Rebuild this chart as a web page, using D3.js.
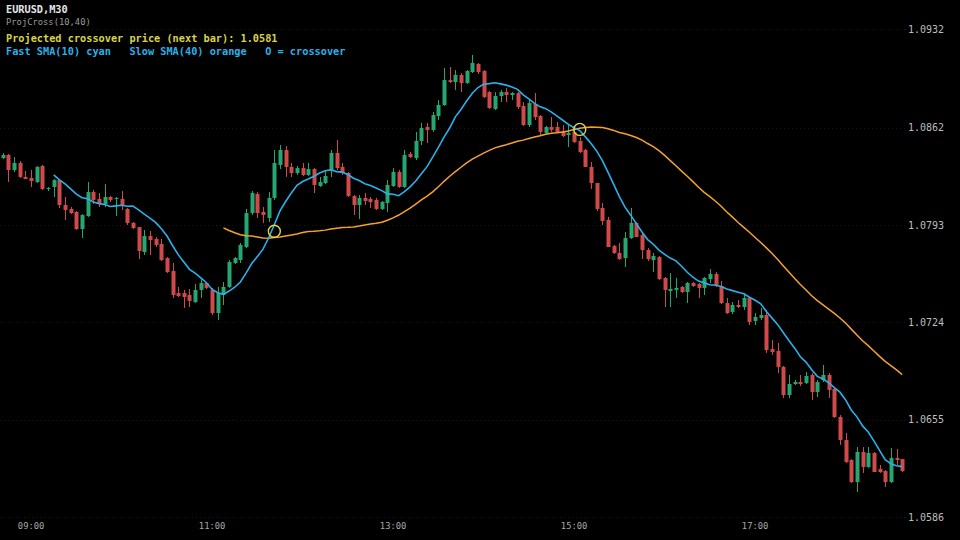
<!DOCTYPE html>
<html><head><meta charset="utf-8">
<script src="https://cdn.jsdelivr.net/npm/d3@7"></script>
<style>html,body{margin:0;padding:0;background:#000;}svg{display:block}</style>
</head><body><svg id="chart" width="960" height="540"></svg>
<script>
// ---- data (EURUSD M30, 160 bars) ----
const opens = [
1.08405,1.08427,1.08320,1.08370,1.08271,1.08264,1.08235,1.08349,1.08186,1.08200,
1.08249,1.08072,1.08044,1.08023,1.07902,1.07994,1.08164,1.08115,1.08079,1.08129,
1.08115,1.08115,1.08044,1.07945,1.07916,1.07739,1.07852,1.07831,1.07796,1.07696,
1.07604,1.07448,1.07448,1.07434,1.07384,1.07470,1.07519,1.07470,1.07306,1.07434,
1.07491,1.07661,1.07682,1.07774,1.08015,1.08150,1.08023,1.07980,1.08122,1.08356,
1.08462,1.08342,1.08299,1.08334,1.08285,1.08327,1.08207,1.08228,1.08313,1.08441,
1.08342,1.08299,1.08136,1.08072,1.08122,1.08115,1.08108,1.08044,1.08086,1.08207,
1.08306,1.08200,1.08434,1.08405,1.08526,1.08625,1.08604,1.08703,1.08781,1.08958,
1.08944,1.08994,1.08937,1.09015,1.09072,1.09022,1.08873,1.08753,1.08845,1.08873,
1.08852,1.08866,1.08774,1.08639,1.08788,1.08703,1.08583,1.08625,1.08625,1.08597,
1.08568,1.08590,1.08526,1.08462,1.08342,1.08228,1.08051,1.07966,1.07781,1.07732,
1.07696,1.07838,1.07945,1.07859,1.07753,1.07682,1.07703,1.07555,1.07462,1.07470,
1.07491,1.07455,1.07519,1.07512,1.07484,1.07547,1.07583,1.07498,1.07377,1.07314,
1.07363,1.07349,1.07413,1.07250,1.07271,1.07292,1.07051,1.07037,1.06924,1.06725,
1.06803,1.06817,1.06810,1.06867,1.06746,1.06831,1.06867,1.06768,1.06569,1.06406,
1.06264,1.06108,1.06321,1.06215,1.06314,1.06200,1.06186,1.06108,1.06278,1.06271];
const highs = [
1.08441,1.08434,1.08412,1.08384,1.08313,1.08320,1.08349,1.08356,1.08200,1.08256,
1.08256,1.08129,1.08058,1.08030,1.08008,1.08235,1.08179,1.08157,1.08221,1.08136,
1.08129,1.08171,1.08051,1.07952,1.07916,1.07895,1.07888,1.07845,1.07831,1.07703,
1.07661,1.07491,1.07470,1.07477,1.07512,1.07547,1.07526,1.07484,1.07491,1.07526,
1.07682,1.07703,1.07803,1.08044,1.08171,1.08164,1.08058,1.08164,1.08462,1.08498,
1.08490,1.08370,1.08349,1.08370,1.08370,1.08334,1.08271,1.08320,1.08462,1.08533,
1.08370,1.08306,1.08143,1.08143,1.08157,1.08129,1.08122,1.08101,1.08249,1.08334,
1.08320,1.08462,1.08448,1.08590,1.08654,1.08654,1.08732,1.08817,1.09043,1.09051,
1.09029,1.09008,1.09029,1.09136,1.09079,1.09029,1.08880,1.08873,1.08888,1.08902,
1.08873,1.08873,1.08802,1.08817,1.08866,1.08710,1.08632,1.08696,1.08661,1.08639,
1.08639,1.08625,1.08554,1.08469,1.08377,1.08228,1.08086,1.07987,1.07789,1.07803,
1.07881,1.08051,1.07952,1.07874,1.07767,1.07732,1.07711,1.07562,1.07590,1.07555,
1.07498,1.07526,1.07526,1.07519,1.07562,1.07618,1.07597,1.07533,1.07413,1.07384,
1.07399,1.07448,1.07420,1.07306,1.07342,1.07328,1.07115,1.07094,1.06931,1.06867,
1.06831,1.06867,1.06888,1.06881,1.06831,1.06938,1.06881,1.06775,1.06583,1.06456,
1.06271,1.06356,1.06356,1.06356,1.06321,1.06229,1.06193,1.06349,1.06342,1.06271];
const lows = [
1.08398,1.08235,1.08306,1.08264,1.08256,1.08200,1.08228,1.08179,1.08171,1.08129,
1.08051,1.07966,1.08008,1.07895,1.07838,1.07987,1.08079,1.08058,1.08058,1.08093,
1.07994,1.08037,1.07930,1.07902,1.07689,1.07718,1.07718,1.07774,1.07675,1.07590,
1.07413,1.07420,1.07342,1.07349,1.07377,1.07413,1.07477,1.07292,1.07257,1.07363,
1.07484,1.07654,1.07661,1.07767,1.08001,1.07980,1.07945,1.07952,1.08108,1.08327,
1.08271,1.08271,1.08285,1.08278,1.08278,1.08157,1.08200,1.08221,1.08271,1.08320,
1.08285,1.08129,1.08001,1.07973,1.08072,1.08051,1.08037,1.08037,1.08023,1.08200,
1.08193,1.08193,1.08405,1.08391,1.08498,1.08512,1.08590,1.08675,1.08774,1.08937,
1.08888,1.08873,1.08930,1.09008,1.09001,1.08831,1.08753,1.08746,1.08802,1.08802,
1.08817,1.08753,1.08632,1.08625,1.08675,1.08568,1.08576,1.08590,1.08583,1.08554,
1.08483,1.08512,1.08441,1.08342,1.08186,1.08030,1.07930,1.07774,1.07725,1.07682,
1.07633,1.07831,1.07845,1.07689,1.07675,1.07597,1.07540,1.07349,1.07349,1.07413,
1.07448,1.07377,1.07491,1.07413,1.07434,1.07519,1.07491,1.07370,1.07299,1.07299,
1.07342,1.07328,1.07221,1.07221,1.07257,1.07023,1.07009,1.06881,1.06704,1.06704,
1.06796,1.06789,1.06803,1.06690,1.06711,1.06817,1.06704,1.06562,1.06371,1.06243,
1.06101,1.06037,1.06172,1.06207,1.06179,1.06172,1.06073,1.06101,1.06229,1.06179];
const closes = [
1.08427,1.08320,1.08370,1.08271,1.08256,1.08242,1.08342,1.08186,1.08193,1.08249,
1.08072,1.08037,1.08015,1.07902,1.08001,1.08164,1.08108,1.08079,1.08129,1.08108,
1.08122,1.08072,1.07945,1.07909,1.07746,1.07852,1.07824,1.07789,1.07682,1.07597,
1.07434,1.07427,1.07420,1.07392,1.07470,1.07519,1.07484,1.07306,1.07448,1.07491,
1.07668,1.07696,1.07789,1.08015,1.08157,1.08015,1.08001,1.08122,1.08370,1.08462,
1.08342,1.08299,1.08334,1.08285,1.08327,1.08214,1.08235,1.08278,1.08441,1.08334,
1.08299,1.08136,1.08072,1.08122,1.08101,1.08093,1.08044,1.08093,1.08214,1.08306,
1.08200,1.08427,1.08412,1.08526,1.08618,1.08604,1.08710,1.08781,1.08958,1.08944,
1.08994,1.08937,1.09022,1.09079,1.09015,1.08838,1.08760,1.08845,1.08873,1.08852,
1.08866,1.08767,1.08639,1.08795,1.08696,1.08590,1.08625,1.08604,1.08583,1.08561,
1.08583,1.08519,1.08448,1.08342,1.08228,1.08044,1.07959,1.07774,1.07732,1.07689,
1.07838,1.07945,1.07845,1.07753,1.07689,1.07711,1.07547,1.07470,1.07477,1.07484,
1.07455,1.07519,1.07498,1.07484,1.07555,1.07583,1.07505,1.07377,1.07306,1.07363,
1.07349,1.07413,1.07243,1.07278,1.07292,1.07044,1.07030,1.06924,1.06725,1.06803,
1.06817,1.06803,1.06860,1.06746,1.06817,1.06867,1.06761,1.06569,1.06406,1.06250,
1.06108,1.06321,1.06215,1.06314,1.06179,1.06179,1.06108,1.06278,1.06264,1.06186];
// Fast SMA(10), first value at bar 9
const fastStart = 9;
const fastSMA = [
1.08286,1.08250,1.08222,1.08186,1.08149,1.08124,1.08116,1.08093,1.08082,1.08076,
1.08062,1.08066,1.08070,1.08063,1.08064,1.08038,1.08007,1.07979,1.07949,1.07905,
1.07854,1.07785,1.07720,1.07668,1.07616,1.07589,1.07555,1.07521,1.07473,1.07450,
1.07439,1.07462,1.07489,1.07526,1.07589,1.07657,1.07707,1.07759,1.07840,1.07932,
1.08030,1.08097,1.08157,1.08212,1.08239,1.08256,1.08276,1.08299,1.08315,1.08322,
1.08309,1.08305,1.08288,1.08262,1.08246,1.08223,1.08211,1.08192,1.08174,1.08151,
1.08148,1.08138,1.08167,1.08201,1.08242,1.08293,1.08344,1.08411,1.08480,1.08554,
1.08618,1.08697,1.08749,1.08810,1.08865,1.08905,1.08928,1.08933,1.08939,1.08931,
1.08922,1.08909,1.08892,1.08853,1.08825,1.08793,1.08768,1.08755,1.08731,1.08702,
1.08673,1.08644,1.08620,1.08600,1.08555,1.08508,1.08454,1.08387,1.08304,1.08219,
1.08132,1.08057,1.08000,1.07940,1.07881,1.07827,1.07794,1.07752,1.07722,1.07696,
1.07676,1.07638,1.07595,1.07560,1.07533,1.07520,1.07507,1.07503,1.07494,1.07477,
1.07465,1.07454,1.07443,1.07418,1.07397,1.07371,1.07317,1.07270,1.07224,1.07166,
1.07110,1.07057,1.06996,1.06958,1.06904,1.06857,1.06839,1.06812,1.06777,1.06745,
1.06690,1.06619,1.06570,1.06506,1.06463,1.06400,1.06332,1.06266,1.06237,1.06223,
1.06217];
// Slow SMA(40), first value at bar 39
const slowStart = 39;
const slowSMA = [
1.07910,1.07891,1.07875,1.07861,1.07854,1.07852,1.07846,1.07838,1.07836,1.07841,
1.07846,1.07853,1.07859,1.07867,1.07877,1.07885,1.07886,1.07889,1.07894,1.07902,
1.07908,1.07912,1.07914,1.07917,1.07923,1.07931,1.07937,1.07943,1.07950,1.07964,
1.07981,1.08001,1.08025,1.08050,1.08079,1.08108,1.08135,1.08165,1.08202,1.08240,
1.08276,1.08309,1.08340,1.08371,1.08398,1.08419,1.08440,1.08459,1.08477,1.08489,
1.08499,1.08512,1.08524,1.08532,1.08544,1.08554,1.08563,1.08573,1.08581,1.08584,
1.08590,1.08597,1.08607,1.08616,1.08622,1.08625,1.08624,1.08622,1.08613,1.08601,
1.08586,1.08577,1.08565,1.08551,1.08532,1.08508,1.08486,1.08457,1.08424,1.08387,
1.08350,1.08312,1.08276,1.08238,1.08198,1.08162,1.08131,1.08099,1.08063,1.08023,
1.07986,1.07948,1.07914,1.07879,1.07842,1.07806,1.07768,1.07728,1.07686,1.07640,
1.07596,1.07551,1.07508,1.07469,1.07429,1.07394,1.07364,1.07334,1.07304,1.07271,
1.07235,1.07192,1.07151,1.07110,1.07075,1.07037,1.06999,1.06963,1.06933,1.06903,
1.06870];
const crossIdx = [48, 102];
const xTickIdx = [5, 37, 69, 101, 133];
const xTickLabels = ["09:00", "11:00", "13:00", "15:00", "17:00"];
const yTickValues = [1.0932, 1.0862, 1.0793, 1.0724, 1.0655, 1.0586];
const yTickLabels = ["1.0932", "1.0862", "1.0793", "1.0724", "1.0655", "1.0586"];
const headerLines = [
  "EURUSD,M30",
  "ProjCross(10,40)",
  "Projected crossover price (next bar): 1.0581",
  "Fast SMA(10) cyan   Slow SMA(40) orange   O = crossover"
];

// ---- drawing ----
const svg = d3.select("#chart");
const n = closes.length;
const UP = "#26a772", DOWN = "#d04a4a", CYAN = "#2bb0ea", ORANGE = "#f5a030", YEL = "#dcd648";
const mono = "'DejaVu Sans Mono', 'Liberation Mono', monospace";

const x = d3.scaleBand().domain(d3.range(n)).range([0, 905]);
const y = d3.scaleLinear().domain([1.0586, 1.0932]).range([517, 29]);
const cx = i => x(i) + x.bandwidth() / 2;

svg.append("rect").attr("width", 960).attr("height", 540).attr("fill", "#000");

// grid (very faint)
svg.append("g").selectAll("line").data(yTickValues).join("line")
  .attr("x1", 0).attr("x2", 905)
  .attr("y1", d => Math.round(y(d)) + 0.5).attr("y2", d => Math.round(y(d)) + 0.5)
  .attr("stroke", "#181818").attr("stroke-dasharray", "1,3");

// candles
const bars = d3.range(n);
const bodyW = 4;
const g = svg.append("g");
g.selectAll("line.wick").data(bars).join("line")
  .attr("class", "wick")
  .attr("x1", i => Math.round(cx(i)) + 0.5).attr("x2", i => Math.round(cx(i)) + 0.5)
  .attr("y1", i => y(highs[i])).attr("y2", i => y(lows[i]))
  .attr("stroke", i => closes[i] >= opens[i] ? UP : DOWN).attr("stroke-width", 1);
g.selectAll("rect.body").data(bars).join("rect")
  .attr("class", "body")
  .attr("x", i => Math.round(cx(i)) + 0.5 - bodyW / 2)
  .attr("width", bodyW)
  .attr("y", i => y(Math.max(opens[i], closes[i])))
  .attr("height", i => Math.max(1, Math.abs(y(opens[i]) - y(closes[i]))))
  .attr("fill", i => closes[i] >= opens[i] ? UP : DOWN);

// SMA lines
const lineGen = (arr, start) => d3.line()
  .x((d, k) => cx(k + start)).y(d => y(d))(arr);
svg.append("path").attr("d", lineGen(slowSMA, slowStart))
  .attr("fill", "none").attr("stroke", ORANGE).attr("stroke-width", 1.5);
svg.append("path").attr("d", lineGen(fastSMA, fastStart))
  .attr("fill", "none").attr("stroke", CYAN).attr("stroke-width", 1.6);

// crossover markers
svg.append("g").selectAll("circle").data(crossIdx).join("circle")
  .attr("cx", i => cx(i))
  .attr("cy", i => y((fastSMA[i - fastStart] + slowSMA[i - slowStart]) / 2))
  .attr("r", 6).attr("fill", "none").attr("stroke", YEL).attr("stroke-width", 1.4);

// y axis labels
svg.append("g").selectAll("text").data(yTickValues).join("text")
  .attr("x", 908).attr("y", d => y(d)).attr("dy", "0.35em")
  .attr("font-family", mono).attr("font-size", 10).attr("fill", "#bdbdbd")
  .text((d, k) => yTickLabels[k]);

// x axis labels
svg.append("g").selectAll("text").data(xTickIdx).join("text")
  .attr("x", i => cx(i)).attr("y", 529).attr("text-anchor", "middle")
  .attr("font-family", mono).attr("font-size", 8.8).attr("fill", "#a8a8a8")
  .text((d, k) => xTickLabels[k]);

// header texts
const hdr = [
  {y: 13, size: 10.25, weight: "bold", fill: "#e6e6e6"},
  {y: 25, size: 8.8, weight: "normal", fill: "#9a9a9a"},
  {y: 42, size: 10.25, weight: "bold", fill: "#d8d44a"},
  {y: 55, size: 10.25, weight: "bold", fill: "#2bb0ea"}
];
svg.append("g").selectAll("text").data(headerLines).join("text")
  .attr("x", 6).attr("y", (d, k) => hdr[k].y)
  .attr("font-family", mono).attr("font-size", (d, k) => hdr[k].size)
  .attr("font-weight", (d, k) => hdr[k].weight).attr("fill", (d, k) => hdr[k].fill)
  .style("white-space", "pre").attr("xml:space", "preserve")
  .text(d => d);
</script>
</body></html>
